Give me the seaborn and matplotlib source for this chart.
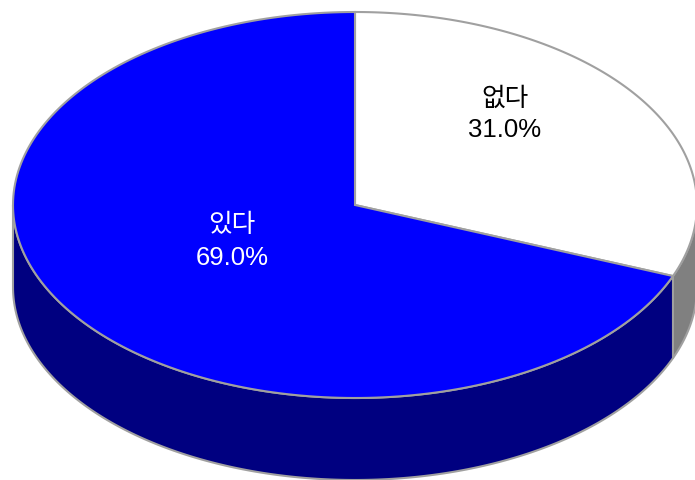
import numpy as np
import matplotlib
matplotlib.use('Agg')
import matplotlib.pyplot as plt
import seaborn as sns
from matplotlib.patches import Polygon

sns.set_theme(style='white')
plt.rcParams['font.family'] = ['Liberation Sans', 'Noto Sans CJK KR', 'DejaVu Sans']

# Data
labels = ['없다', '있다']
values = [31.0, 69.0]
top_colors = ['#ffffff', '#0000ff']
side_colors = ['#808080', '#000080']
text_colors = ['black', 'white']

# Layout (pixel coords)
cx, cy = 355, 205
rx, ry = 342, 193
depth = 82
label_pos = [(505, 99, 130), (232, 225, 258)]
edge = '#a0a0a0'


def arc(a0, a1, dy=0, n=200):
    # angles in degrees, clockwise from 12 o'clock
    t = np.radians(np.linspace(a0, a1, n))
    return np.column_stack([cx + rx * np.sin(t), cy - ry * np.cos(t) + dy])


fig = plt.figure(figsize=(6.95, 4.8), dpi=100)
ax = fig.add_axes([0, 0, 1, 1])
ax.set_xlim(0, 695)
ax.set_ylim(480, 0)
ax.axis('off')

total = sum(values)
bounds = np.concatenate([[0], np.cumsum(values) / total * 360])

# side walls (front half only: 90..270 deg)
for i in range(len(values)):
    a0, a1 = max(bounds[i], 90), min(bounds[i + 1], 270)
    if a1 <= a0:
        continue
    top = arc(a0, a1)
    bot = arc(a0, a1, depth)[::-1]
    ax.add_patch(Polygon(np.vstack([top, bot]), closed=True, facecolor=side_colors[i],
                         edgecolor=edge, linewidth=1.5, zorder=1))

# top faces
for i in range(len(values)):
    pts = np.vstack([[cx, cy], arc(bounds[i], bounds[i + 1])])
    ax.add_patch(Polygon(pts, closed=True, facecolor=top_colors[i],
                         edgecolor=edge, linewidth=1.5, zorder=2))

for i, lab in enumerate(labels):
    x, y1, y2 = label_pos[i]
    ax.text(x, y1, lab, ha='center', va='center', fontsize=18.5, color=text_colors[i], zorder=3)
    ax.text(x, y2, f'{values[i]:.1f}%', ha='center', va='center', fontsize=18.5,
            color=text_colors[i], zorder=3)

fig.savefig('out.png', dpi=100)
